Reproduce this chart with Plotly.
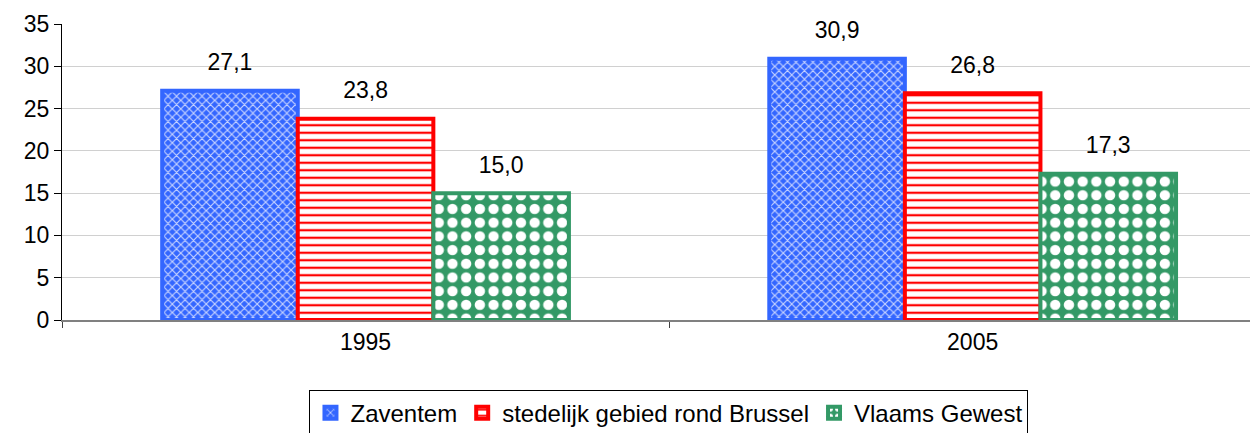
import plotly.graph_objects as go

years = ["1995", "2005"]
series_names = ["Zaventem", "stedelijk gebied rond Brussel", "Vlaams Gewest"]
zaventem = [27.1, 30.9]
stedelijk = [23.8, 26.8]
vlaams = [15.0, 17.3]
y_ticks = [0, 5, 10, 15, 20, 25, 30, 35]

values = [zaventem, stedelijk, vlaams]
line_colors = ["#3366FF", "#FF0000", "#339966"]
patterns = [
    dict(shape="x", bgcolor="#3366FF", fgcolor="#C8D4FF", size=6, solidity=0.35, fillmode="replace"),
    dict(shape="-", bgcolor="#FFFFFF", fgcolor="#FF0000", size=7.5, solidity=0.3, fillmode="replace"),
    dict(shape=".", bgcolor="#339966", fgcolor="#FFFFFF", size=13.7, solidity=0.45, fillmode="replace"),
]

FONT = "Liberation Sans, Arial, sans-serif"

fig = go.Figure()
for i, name in enumerate(series_names):
    fig.add_trace(go.Bar(
        x=years, y=values[i], name=name,
        offsetgroup=str(i),
        marker=dict(color=line_colors[i], pattern=patterns[i],
                    line=dict(color=line_colors[i], width=4)),
        showlegend=True,
    ))
for i, name in enumerate(series_names):
    fig.add_trace(go.Scatter(
        x=years, y=values[i], mode="markers+text",
        offsetgroup=str(i),
        text=[f"{v:.1f}".replace(".", ",") for v in values[i]],
        textposition="top center",
        textfont=dict(family=FONT, size=23, color="#000000"),
        marker=dict(size=22, opacity=0),
        hoverinfo="skip", showlegend=False, cliponaxis=False,
    ))

# page body has an 8px default margin, so the figure is shifted by (8, 8)
fig.update_layout(
    width=1250, height=425,
    margin=dict(l=54, r=0, t=16, b=113, pad=0, autoexpand=False),
    paper_bgcolor="white", plot_bgcolor="white",
    barmode="group", bargap=0.33, bargroupgap=0,
    scattermode="group", scattergap=0.33,
    font=dict(family=FONT, size=23, color="#000000"),
    legend=dict(
        orientation="h", x=0.5075, xanchor="center", y=-0.235, yanchor="top",
        bordercolor="#000000", borderwidth=1,
        font=dict(family=FONT, size=24, color="#000000"),
        itemwidth=30, tracegroupgap=0, traceorder="normal",
    ),
    xaxis=dict(
        type="category", range=[-0.5, 1.47], automargin=False,
        showline=True, linecolor="#808080", linewidth=2,
        ticks="outside", tickson="boundaries", ticklen=6, tickcolor="#404040",
        showgrid=False, tickfont=dict(size=23),
    ),
    yaxis=dict(
        range=[0, 35], tickvals=y_ticks, automargin=False,
        showline=True, linecolor="#000000", linewidth=1,
        ticks="outside", ticklen=7, tickcolor="#000000",
        showgrid=True, gridcolor="#D0D0D0", gridwidth=1,
        zeroline=False, tickfont=dict(size=23),
    ),
)

fig.write_html("out.html")
